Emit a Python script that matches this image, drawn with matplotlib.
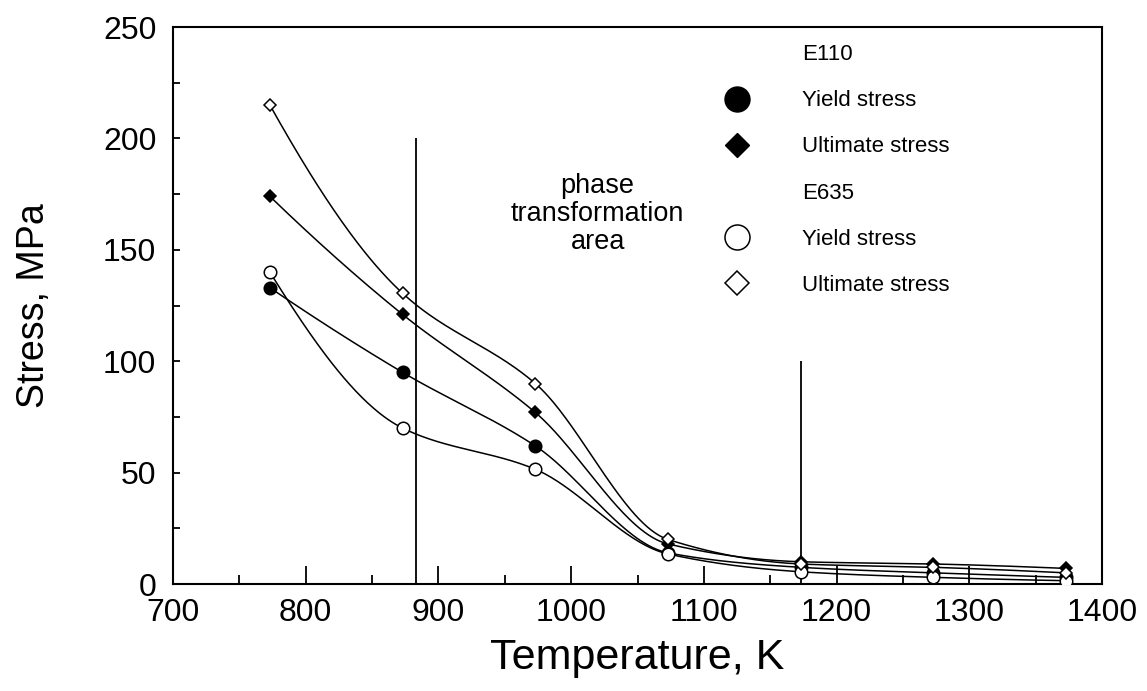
import numpy as np
import matplotlib
matplotlib.use("Agg")
import matplotlib.pyplot as plt
from matplotlib.lines import Line2D
from matplotlib.ticker import MultipleLocator

plt.rcParams['font.family'] = ['Liberation Sans', 'DejaVu Sans']

# temperatures, K
temp = [773, 873, 973, 1073, 1173, 1273, 1373]
# stress, MPa
e110_yield = [133, 95, 62, 14, 7.5, 5, 3]
e110_ult = [174, 121, 77, 18, 10, 9, 7]
e635_yield = [140, 70, 51.5, 13.5, 5.5, 3, 1.5]
e635_ult = [215, 130.5, 90, 20, 9, 7.5, 5]

# phase transformation boundaries (x, top)
bound_x = [883, 1173]
bound_top = [200, 100]


def pchip(x, y, xs):
    # monotone cubic hermite, just for drawing the smooth curve
    x = np.asarray(x, float)
    y = np.asarray(y, float)
    h = np.diff(x)
    d = np.diff(y) / h
    n = len(x)
    m = np.zeros(n)
    for k in range(1, n - 1):
        if d[k - 1] * d[k] > 0:
            w1 = 2 * h[k] + h[k - 1]
            w2 = h[k] + 2 * h[k - 1]
            m[k] = (w1 + w2) / (w1 / d[k - 1] + w2 / d[k])
    def end(h0, h1, d0, d1):
        s = ((2 * h0 + h1) * d0 - h0 * d1) / (h0 + h1)
        if np.sign(s) != np.sign(d0):
            s = 0.0
        elif np.sign(d0) != np.sign(d1) and abs(s) > abs(3 * d0):
            s = 3 * d0
        return s
    m[0] = end(h[0], h[1], d[0], d[1])
    m[-1] = end(h[-1], h[-2], d[-1], d[-2])
    idx = np.clip(np.searchsorted(x, xs) - 1, 0, n - 2)
    t = (xs - x[idx]) / h[idx]
    h00 = 2 * t**3 - 3 * t**2 + 1
    h10 = t**3 - 2 * t**2 + t
    h01 = -2 * t**3 + 3 * t**2
    h11 = t**3 - t**2
    return (h00 * y[idx] + h10 * h[idx] * m[idx] + h01 * y[idx + 1]
            + h11 * h[idx] * m[idx + 1])


fig = plt.figure(figsize=(11.47, 6.91), dpi=100)
ax = fig.add_axes([0.1508, 0.1548, 0.8100, 0.8061])

xs = np.linspace(temp[0], temp[-1], 400)
series = [
    (e110_yield, 'o', 'black', 9),
    (e110_ult, 'D', 'black', 6),
    (e635_yield, 'o', 'white', 9),
    (e635_ult, 'D', 'white', 6),
]
for vals, mk, fc, ms in series:
    ax.plot(xs, pchip(temp, vals, xs), color='black', lw=1.1, zorder=2)
    ax.plot(temp, vals, ls='none', marker=mk, ms=ms, mfc=fc, mec='black',
            mew=1.1, zorder=3)

ax.vlines(bound_x, 0, bound_top, color='black', lw=1.3)

ax.text(1020, 166, 'phase\ntransformation\narea', ha='center', va='center',
        fontsize=19.5, linespacing=1.1)

ax.set_xlim(700, 1400)
ax.set_ylim(0, 250)
ax.xaxis.set_major_locator(MultipleLocator(100))
ax.xaxis.set_minor_locator(MultipleLocator(50))
ax.yaxis.set_major_locator(MultipleLocator(50))
ax.yaxis.set_minor_locator(MultipleLocator(25))
ax.tick_params(axis='x', which='major', direction='in', length=13, width=1.3,
               labelsize=23, pad=10, top=False)
ax.tick_params(axis='x', which='minor', direction='in', length=6.5, width=1.3,
               top=False)
ax.tick_params(axis='y', which='both', direction='in', length=5, width=1.3,
               labelsize=23, pad=12, right=False)
for sp in ax.spines.values():
    sp.set_linewidth(1.5)

ax.set_xlabel('Temperature, K', fontsize=31, labelpad=7)
ax.set_ylabel('Stress, MPa', fontsize=27, labelpad=37)

blank = Line2D([], [], ls='none')
handles = [
    blank,
    Line2D([], [], ls='none', marker='o', ms=9, mfc='black', mec='black'),
    Line2D([], [], ls='none', marker='D', ms=6, mfc='black', mec='black'),
    blank,
    Line2D([], [], ls='none', marker='o', ms=9, mfc='white', mec='black', mew=1.1),
    Line2D([], [], ls='none', marker='D', ms=6, mfc='white', mec='black', mew=1.1),
]
labels = ['E110', 'Yield stress', 'Ultimate stress',
          'E635', 'Yield stress', 'Ultimate stress']
ax.legend(handles, labels, loc='upper left', bbox_to_anchor=(0.574, 0.985),
          frameon=False, fontsize=16, markerscale=2, handlelength=2,
          handletextpad=1.9, labelspacing=1.13, borderaxespad=0)

fig.savefig('out.png', dpi=100)
